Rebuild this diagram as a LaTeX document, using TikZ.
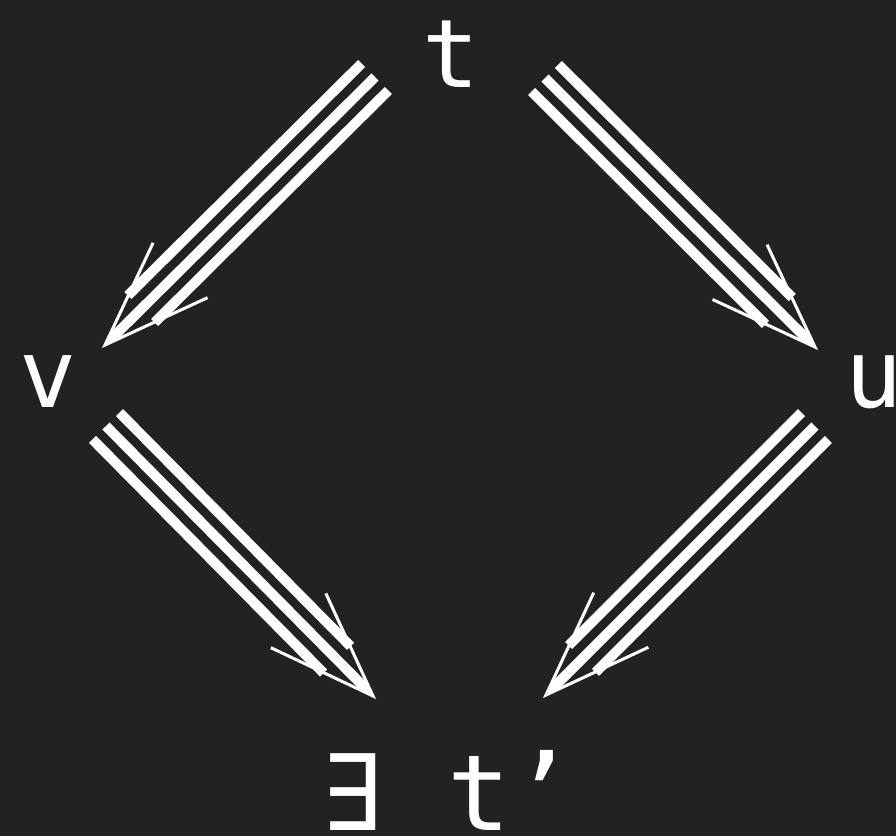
\documentclass[tikz,border=0pt]{standalone}
\usepackage{fontspec}
\usetikzlibrary{calc}
\newfontfamily\diagfont{DejaVu Sans Mono}
\definecolor{Bg}{HTML}{222222}

\tikzset{
  term/.style={text=white,font=\diagfont\fontsize{54}{60}\selectfont,inner sep=0pt,anchor=base},
  bigterm/.style={term,font=\diagfont\fontsize{60}{66}\selectfont},
  bar/.style={draw=white,line width=0.2cm},
  barb/.style={draw=white,line width=0.06cm,line join=miter}
}

% three parallel bars and an open head, from #1 to #2
\newcommand\threearrow[2]{%
  \draw[bar] (#1) -- ($(#2)!0.3cm!(#1)$);
  \draw[bar] ($(#1)!0.38cm!90:(#2)$) -- ($(#2)!1.09cm!-20.4:(#1)$);
  \draw[bar] ($(#1)!0.38cm!-90:(#2)$) -- ($(#2)!1.09cm!20.4:(#1)$);
  \fill[white] (#2) -- ($(#2)!0.38cm!20:(#1)$) -- ($(#2)!0.38cm!-20:(#1)$) -- cycle;
  \draw[barb] ($(#2)!2.26cm!20:(#1)$) -- (#2) -- ($(#2)!2.26cm!-20:(#1)$);
}

\begin{document}
\begin{tikzpicture}[x=0.02cm,y=-0.02cm]
    \useasboundingbox (0,0) rectangle (896,836);
    \fill[Bg] (0,0) rectangle (896,836);
    \node[term] (t) at (451,87) {t};
    \node[term] (v) at (48,407) {v};
    \node[term] (u) at (874,407) {u};
    \node[bigterm] (tp) at (448,830) {∃ t’};
    % arrow ends
    \coordinate (tv-s) at (375,77);
    \coordinate (tv-e) at (105,345);
    \coordinate (tu-s) at (545,78);
    \coordinate (tu-e) at (815,347);
    \coordinate (vt-s) at (106,426);
    \coordinate (vt-e) at (373,696);
    \coordinate (ut-s) at (815,426);
    \coordinate (ut-e) at (546,695);
    \threearrow{tv-s}{tv-e}
    \threearrow{tu-s}{tu-e}
    \threearrow{vt-s}{vt-e}
    \threearrow{ut-s}{ut-e}
  \end{tikzpicture}
\end{document}
